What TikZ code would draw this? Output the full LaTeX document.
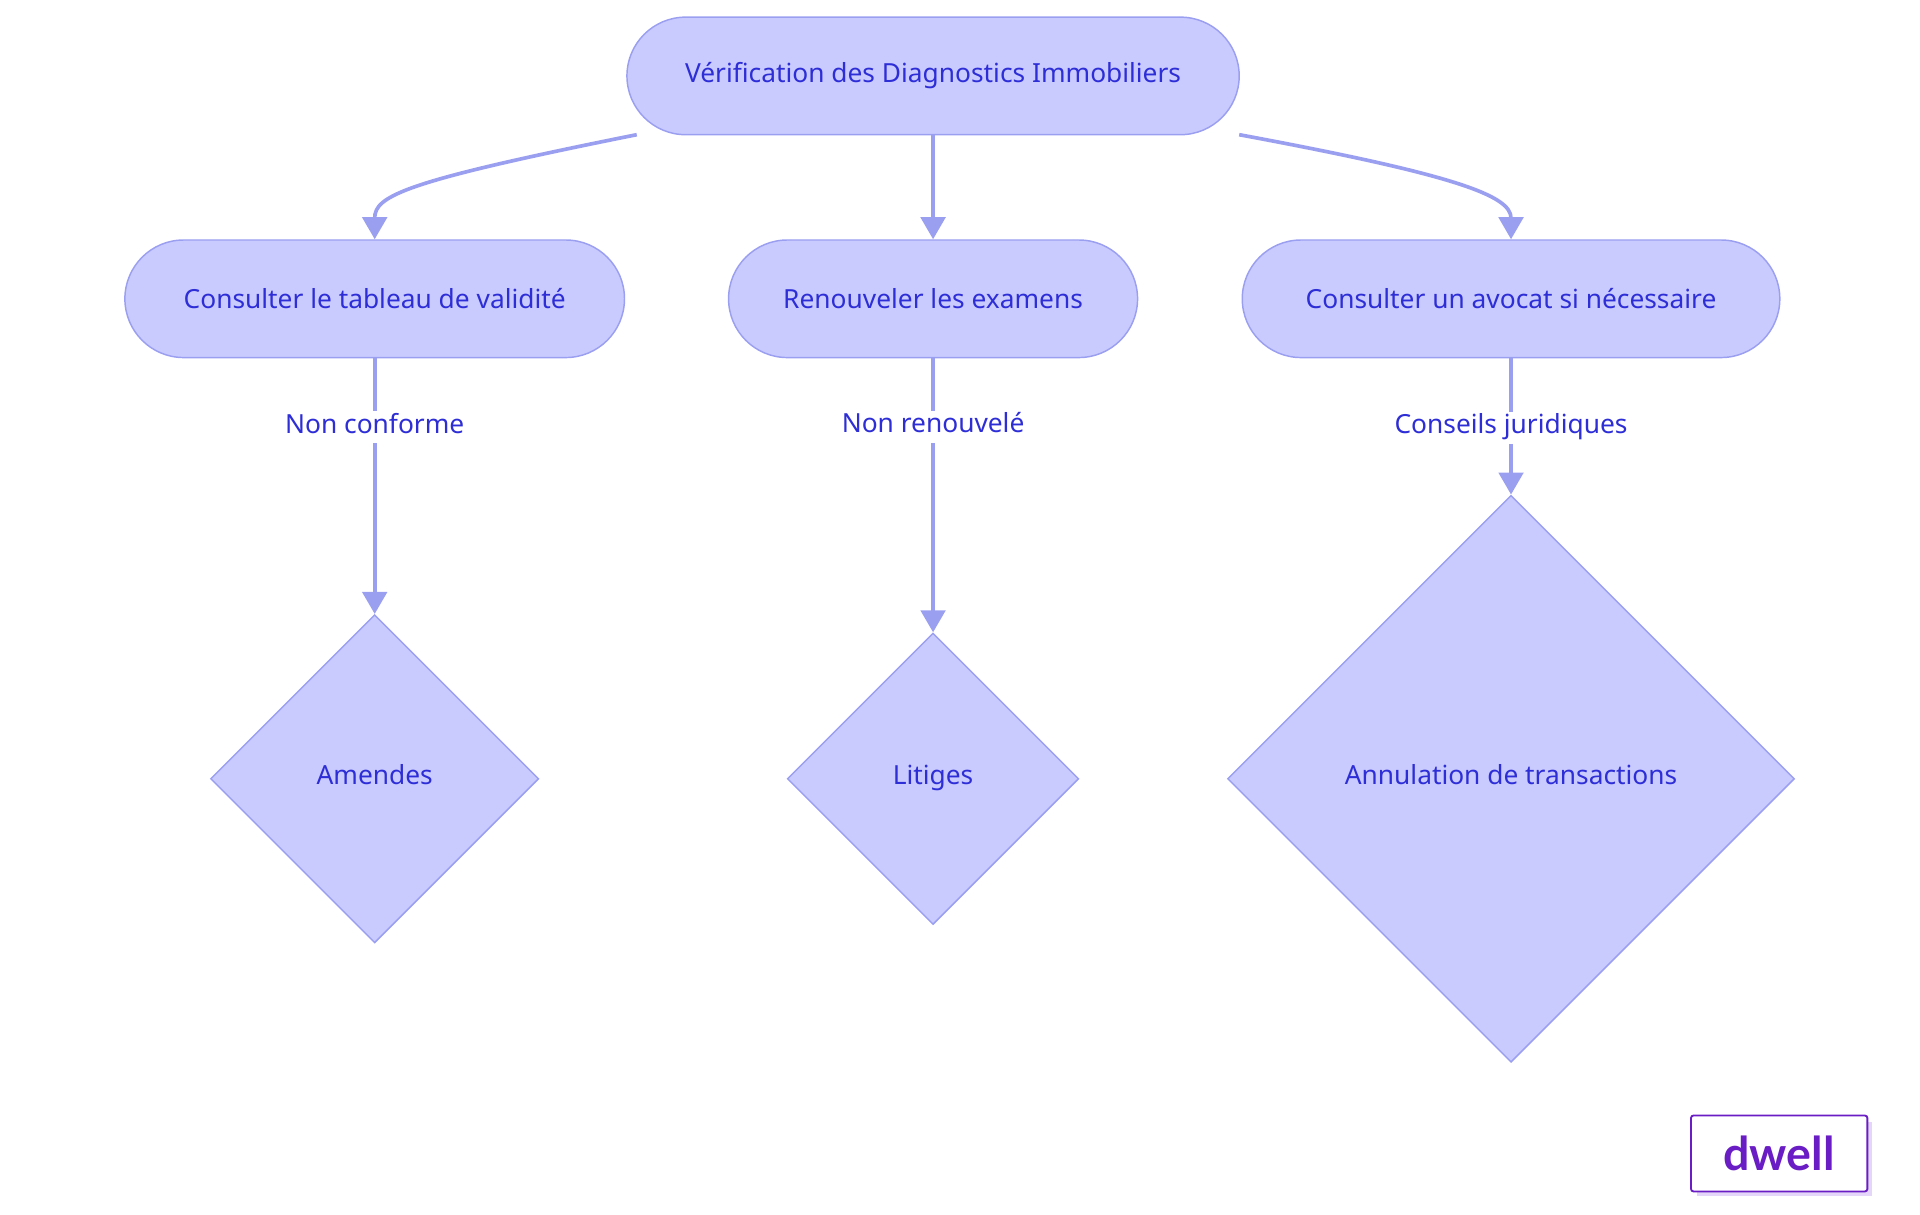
\documentclass[tikz,border=0pt]{standalone}
\usepackage{fontspec}
\setmainfont{Noto Sans}
\newfontfamily\logofont{Lato}
\usetikzlibrary{arrows.meta, shapes.geometric, positioning}
\definecolor{boxfill}{HTML}{C9CBFF}
\definecolor{boxline}{HTML}{9B9FF0}
\definecolor{boxtext}{HTML}{2E2ED6}
\definecolor{logoviolet}{HTML}{6A1DC4}
\definecolor{logoshade}{HTML}{E4D6F8}

\begin{document}
\begin{tikzpicture}[
    x=1pt, y=-1pt,
    every node/.style={
    font=\fontsize{21.5}{26}\selectfont,
    text=boxtext},
    pill/.style={
    draw=boxline, fill=boxfill, line width=1.2pt,
    rounded corners=48pt, minimum height=96pt, inner sep=0pt},
    choice/.style={
    diamond, aspect=1, draw=boxline, fill=boxfill, line width=1.2pt, inner sep=0pt,
    text height=15pt, text depth=5pt},
    link/.style={
    draw=boxline, line width=3pt,
    -{Triangle[length=18pt, width=20pt]}},
    tag/.style={fill=white, inner sep=3pt, text height=15pt, text depth=5pt}]
    \useasboundingbox (0,0) rectangle (1568,992);
    \node[pill, minimum width=500pt] (verif) at (762,62) {Vérification des Diagnostics Immobiliers};
    \node[pill, minimum width=408pt] (tableau) at (306,244) {Consulter le tableau de validité};
    \node[pill, minimum width=334pt] (renouv) at (762,244) {Renouveler les examens};
    \node[pill, minimum width=439pt] (avocat) at (1234,244) {Consulter un avocat si nécessaire};
    \node[choice, minimum width=268pt, minimum height=268pt] (amendes) at (306,636) {Amendes};
    \node[choice, minimum width=238pt, minimum height=238pt] (litiges) at (762,636) {Litiges};
    \node[choice, minimum width=463pt, minimum height=463pt] (annul) at (1234,636) {Annulation de transactions};
    \coordinate (vleft) at (520,110);
    \coordinate (vright) at (1012,110);
    \draw[link] (vleft) .. controls (330,148) and (306,160) .. (tableau.north);
    \draw[link] (verif) -- (renouv);
    \draw[link] (vright) .. controls (1190,143) and (1234,160) .. (avocat.north);
    \draw[link] (tableau) -- node[tag, pos=0.27] {Non conforme} (amendes.north);
    \draw[link] (renouv) -- node[tag, pos=0.25] {Non renouvelé} (litiges.north);
    \draw[link] (avocat) -- node[tag, pos=0.51] {Conseils juridiques} (annul.north);
    % logo
    \fill[logoshade] (1386,916) rectangle (1529,977);
    \node[draw=logoviolet, fill=white, line width=1.5pt, rounded corners=2pt,
      minimum width=144pt, minimum height=62pt, text=logoviolet,
      font=\logofont\bfseries\fontsize{38}{44}\selectfont] (logo) at (1453,942) {dwell};
\end{tikzpicture}
\end{document}
